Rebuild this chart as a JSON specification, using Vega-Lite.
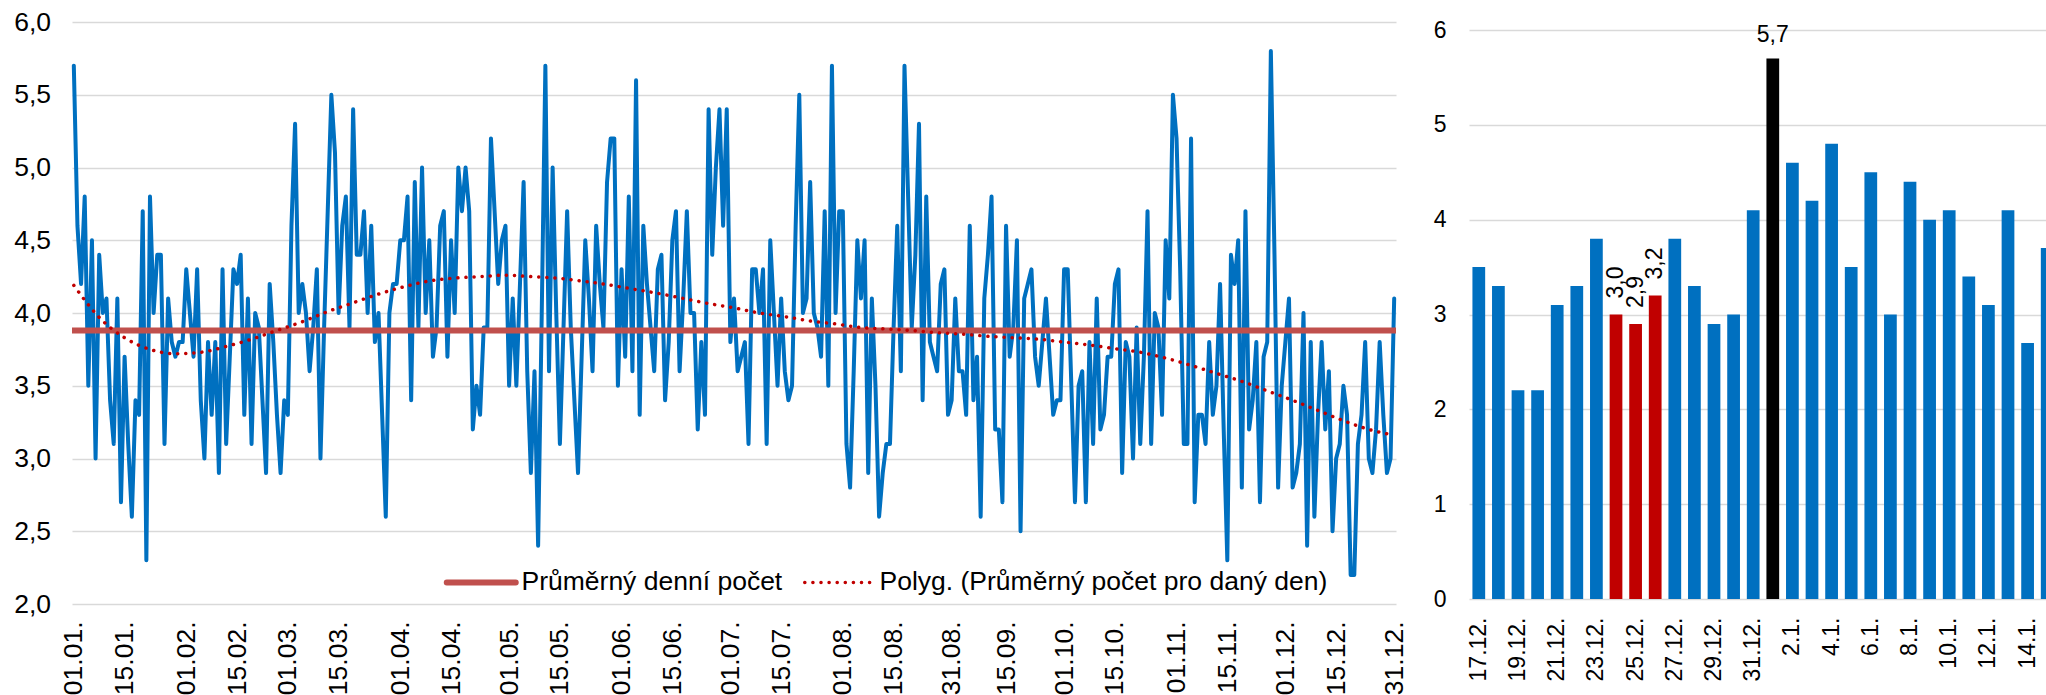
{
"$schema":"https://vega.github.io/schema/vega-lite/v6.json",
"background":"white",
"padding":{"left":13,"top":9,"right":0,"bottom":0},
"bounds":"flush",
"spacing":73,
"resolve":{"scale":{"color":"independent"},"legend":{"color":"independent"}},
"config":{"font":"Liberation Sans","view":{"stroke":null},
"locale":{"number":{"decimal":",","thousands":" ","grouping":[3],"currency":[""," Kč"]}},
"axis":{"labelFont":"Liberation Sans","labelColor":"#000000","gridColor":"#D9D9D9","gridWidth":1.5,"domain":false,"ticks":false}},
"hconcat":[
{"width":1324,"height":582,
"data":{"values":[
{"d":"01.01.","v":5.7,"t":4.19},{"d":"02.01.","v":4.6},{"d":"03.01.","v":4.2},{"d":"04.01.","v":4.8},{"d":"05.01.","v":3.5},{"d":"06.01.","v":4.5},{"d":"07.01.","v":3.0},{"d":"08.01.","v":4.4,"t":3.97},{"d":"09.01.","v":4.0},{"d":"10.01.","v":4.1},{"d":"11.01.","v":3.4},{"d":"12.01.","v":3.1},{"d":"13.01.","v":4.1},{"d":"14.01.","v":2.7},{"d":"15.01.","v":3.7,"t":3.83},{"d":"16.01.","v":3.1},{"d":"17.01.","v":2.6},{"d":"18.01.","v":3.4},{"d":"19.01.","v":3.3},{"d":"20.01.","v":4.7},{"d":"21.01.","v":2.3},{"d":"22.01.","v":4.8,"t":3.75},{"d":"23.01.","v":4.0},{"d":"24.01.","v":4.4},{"d":"25.01.","v":4.4},{"d":"26.01.","v":3.1},{"d":"27.01.","v":4.1},{"d":"28.01.","v":3.8},{"d":"29.01.","v":3.7,"t":3.72},{"d":"30.01.","v":3.8},{"d":"31.01.","v":3.8},
{"d":"01.02.","v":4.3},{"d":"02.02.","v":4.0},{"d":"03.02.","v":3.7},{"d":"04.02.","v":4.3},{"d":"05.02.","v":3.4,"t":3.73},{"d":"06.02.","v":3.0},{"d":"07.02.","v":3.8},{"d":"08.02.","v":3.3},{"d":"09.02.","v":3.8},{"d":"10.02.","v":2.9},{"d":"11.02.","v":4.3},{"d":"12.02.","v":3.1,"t":3.77},{"d":"13.02.","v":3.7},{"d":"14.02.","v":4.3},{"d":"15.02.","v":4.2},{"d":"16.02.","v":4.4},{"d":"17.02.","v":3.3},{"d":"18.02.","v":4.1},{"d":"19.02.","v":3.1,"t":3.82},{"d":"20.02.","v":4.0},{"d":"21.02.","v":3.9},{"d":"22.02.","v":3.4},{"d":"23.02.","v":2.9},{"d":"24.02.","v":4.2},{"d":"25.02.","v":3.8},{"d":"26.02.","v":3.3,"t":3.88},{"d":"27.02.","v":2.9},{"d":"28.02.","v":3.4},
{"d":"01.03.","v":3.3},{"d":"02.03.","v":4.6},{"d":"03.03.","v":5.3},{"d":"04.03.","v":4.0},{"d":"05.03.","v":4.2,"t":3.94},{"d":"06.03.","v":4.0},{"d":"07.03.","v":3.6},{"d":"08.03.","v":3.9},{"d":"09.03.","v":4.3},{"d":"10.03.","v":3.0},{"d":"11.03.","v":3.9},{"d":"12.03.","v":4.7,"t":4.01},{"d":"13.03.","v":5.5},{"d":"14.03.","v":5.1},{"d":"15.03.","v":4.0},{"d":"16.03.","v":4.6},{"d":"17.03.","v":4.8},{"d":"18.03.","v":3.9},{"d":"19.03.","v":5.4,"t":4.07},{"d":"20.03.","v":4.4},{"d":"21.03.","v":4.4},{"d":"22.03.","v":4.7},{"d":"23.03.","v":4.0},{"d":"24.03.","v":4.6},{"d":"25.03.","v":3.8},{"d":"26.03.","v":4.0,"t":4.13},{"d":"27.03.","v":3.3},{"d":"28.03.","v":2.6},{"d":"29.03.","v":4.0},{"d":"30.03.","v":4.2},{"d":"31.03.","v":4.2},
{"d":"01.04.","v":4.5},{"d":"02.04.","v":4.5,"t":4.18},{"d":"03.04.","v":4.8},{"d":"04.04.","v":3.4},{"d":"05.04.","v":4.9},{"d":"06.04.","v":3.9},{"d":"07.04.","v":5.0},{"d":"08.04.","v":4.0},{"d":"09.04.","v":4.5,"t":4.22},{"d":"10.04.","v":3.7},{"d":"11.04.","v":3.9},{"d":"12.04.","v":4.6},{"d":"13.04.","v":4.7},{"d":"14.04.","v":3.7},{"d":"15.04.","v":4.5},{"d":"16.04.","v":4.0,"t":4.24},{"d":"17.04.","v":5.0},{"d":"18.04.","v":4.7},{"d":"19.04.","v":5.0},{"d":"20.04.","v":4.7},{"d":"21.04.","v":3.2},{"d":"22.04.","v":3.5},{"d":"23.04.","v":3.3,"t":4.25},{"d":"24.04.","v":3.9},{"d":"25.04.","v":3.9},{"d":"26.04.","v":5.2},{"d":"27.04.","v":4.7},{"d":"28.04.","v":4.2},{"d":"29.04.","v":4.5},{"d":"30.04.","v":4.6,"t":4.26},
{"d":"01.05.","v":3.5},{"d":"02.05.","v":4.1},{"d":"03.05.","v":3.5},{"d":"04.05.","v":4.2},{"d":"05.05.","v":4.9},{"d":"06.05.","v":3.6},{"d":"07.05.","v":2.9,"t":4.25},{"d":"08.05.","v":3.6},{"d":"09.05.","v":2.4},{"d":"10.05.","v":4.0},{"d":"11.05.","v":5.7},{"d":"12.05.","v":3.6},{"d":"13.05.","v":5.0},{"d":"14.05.","v":4.0,"t":4.24},{"d":"15.05.","v":3.1},{"d":"16.05.","v":3.9},{"d":"17.05.","v":4.7},{"d":"18.05.","v":3.9},{"d":"19.05.","v":3.4},{"d":"20.05.","v":2.9},{"d":"21.05.","v":3.7,"t":4.22},{"d":"22.05.","v":4.5},{"d":"23.05.","v":4.1},{"d":"24.05.","v":3.6},{"d":"25.05.","v":4.6},{"d":"26.05.","v":4.2},{"d":"27.05.","v":3.9},{"d":"28.05.","v":4.9,"t":4.195},{"d":"29.05.","v":5.2},{"d":"30.05.","v":5.2},{"d":"31.05.","v":3.5},
{"d":"01.06.","v":4.3},{"d":"02.06.","v":3.7},{"d":"03.06.","v":4.8},{"d":"04.06.","v":3.6,"t":4.165},{"d":"05.06.","v":5.6},{"d":"06.06.","v":3.3},{"d":"07.06.","v":4.6},{"d":"08.06.","v":4.2},{"d":"09.06.","v":3.9},{"d":"10.06.","v":3.6},{"d":"11.06.","v":4.3,"t":4.135},{"d":"12.06.","v":4.4},{"d":"13.06.","v":3.4},{"d":"14.06.","v":3.8},{"d":"15.06.","v":4.5},{"d":"16.06.","v":4.7},{"d":"17.06.","v":3.6},{"d":"18.06.","v":4.1,"t":4.10},{"d":"19.06.","v":4.7},{"d":"20.06.","v":4.0},{"d":"21.06.","v":4.0},{"d":"22.06.","v":3.2},{"d":"23.06.","v":3.8},{"d":"24.06.","v":3.3},{"d":"25.06.","v":5.4,"t":4.065},{"d":"26.06.","v":4.4},{"d":"27.06.","v":5.0},{"d":"28.06.","v":5.4},{"d":"29.06.","v":4.6},{"d":"30.06.","v":5.4},
{"d":"01.07.","v":3.8},{"d":"02.07.","v":4.1,"t":4.035},{"d":"03.07.","v":3.6},{"d":"04.07.","v":3.7},{"d":"05.07.","v":3.8},{"d":"06.07.","v":3.1},{"d":"07.07.","v":4.3},{"d":"08.07.","v":4.3},{"d":"09.07.","v":4.0,"t":4.00},{"d":"10.07.","v":4.3},{"d":"11.07.","v":3.1},{"d":"12.07.","v":4.5},{"d":"13.07.","v":4.0},{"d":"14.07.","v":3.5},{"d":"15.07.","v":4.1},{"d":"16.07.","v":3.6,"t":3.975},{"d":"17.07.","v":3.4},{"d":"18.07.","v":3.5},{"d":"19.07.","v":4.6},{"d":"20.07.","v":5.5},{"d":"21.07.","v":4.0},{"d":"22.07.","v":4.1},{"d":"23.07.","v":4.9,"t":3.945},{"d":"24.07.","v":4.0},{"d":"25.07.","v":3.9},{"d":"26.07.","v":3.7},{"d":"27.07.","v":4.7},{"d":"28.07.","v":3.5},{"d":"29.07.","v":5.7},{"d":"30.07.","v":4.0,"t":3.925},{"d":"31.07.","v":4.7},
{"d":"01.08.","v":4.7},{"d":"02.08.","v":3.1},{"d":"03.08.","v":2.8},{"d":"04.08.","v":3.6},{"d":"05.08.","v":4.5},{"d":"06.08.","v":4.1,"t":3.90},{"d":"07.08.","v":4.5},{"d":"08.08.","v":2.9},{"d":"09.08.","v":4.1},{"d":"10.08.","v":3.5},{"d":"11.08.","v":2.6},{"d":"12.08.","v":2.9},{"d":"13.08.","v":3.1,"t":3.89},{"d":"14.08.","v":3.1},{"d":"15.08.","v":3.9},{"d":"16.08.","v":4.6},{"d":"17.08.","v":3.6},{"d":"18.08.","v":5.7},{"d":"19.08.","v":4.8},{"d":"20.08.","v":3.9,"t":3.88},{"d":"21.08.","v":4.4},{"d":"22.08.","v":5.3},{"d":"23.08.","v":3.4},{"d":"24.08.","v":4.8},{"d":"25.08.","v":3.8},{"d":"26.08.","v":3.7},{"d":"27.08.","v":3.6,"t":3.865},{"d":"28.08.","v":4.2},{"d":"29.08.","v":4.3},{"d":"30.08.","v":3.3},{"d":"31.08.","v":3.4},
{"d":"01.09.","v":4.1},{"d":"02.09.","v":3.6},{"d":"03.09.","v":3.6,"t":3.855},{"d":"04.09.","v":3.3},{"d":"05.09.","v":4.6},{"d":"06.09.","v":3.4},{"d":"07.09.","v":3.7},{"d":"08.09.","v":2.6},{"d":"09.09.","v":4.1},{"d":"10.09.","v":4.4,"t":3.84},{"d":"11.09.","v":4.8},{"d":"12.09.","v":3.2},{"d":"13.09.","v":3.2},{"d":"14.09.","v":2.7},{"d":"15.09.","v":4.6},{"d":"16.09.","v":3.7},{"d":"17.09.","v":3.9,"t":3.83},{"d":"18.09.","v":4.5},{"d":"19.09.","v":2.5},{"d":"20.09.","v":4.1},{"d":"21.09.","v":4.2},{"d":"22.09.","v":4.3},{"d":"23.09.","v":3.7},{"d":"24.09.","v":3.5,"t":3.82},{"d":"25.09.","v":3.8},{"d":"26.09.","v":4.1},{"d":"27.09.","v":3.7},{"d":"28.09.","v":3.3},{"d":"29.09.","v":3.4},{"d":"30.09.","v":3.4},
{"d":"01.10.","v":4.3,"t":3.80},{"d":"02.10.","v":4.3},{"d":"03.10.","v":3.5},{"d":"04.10.","v":2.7},{"d":"05.10.","v":3.5},{"d":"06.10.","v":3.6},{"d":"07.10.","v":2.7},{"d":"08.10.","v":3.8,"t":3.78},{"d":"09.10.","v":3.1},{"d":"10.10.","v":4.1},{"d":"11.10.","v":3.2},{"d":"12.10.","v":3.3},{"d":"13.10.","v":3.7},{"d":"14.10.","v":3.7},{"d":"15.10.","v":4.2,"t":3.755},{"d":"16.10.","v":4.3},{"d":"17.10.","v":2.9},{"d":"18.10.","v":3.8},{"d":"19.10.","v":3.7},{"d":"20.10.","v":3.0},{"d":"21.10.","v":3.9},{"d":"22.10.","v":3.1,"t":3.73},{"d":"23.10.","v":3.7},{"d":"24.10.","v":4.7},{"d":"25.10.","v":3.1},{"d":"26.10.","v":4.0},{"d":"27.10.","v":3.9},{"d":"28.10.","v":3.3},{"d":"29.10.","v":4.5,"t":3.69},{"d":"30.10.","v":4.1},{"d":"31.10.","v":5.5},
{"d":"01.11.","v":5.2},{"d":"02.11.","v":4.3},{"d":"03.11.","v":3.1},{"d":"04.11.","v":3.1},{"d":"05.11.","v":5.2,"t":3.64},{"d":"06.11.","v":2.7},{"d":"07.11.","v":3.3},{"d":"08.11.","v":3.3},{"d":"09.11.","v":3.1},{"d":"10.11.","v":3.8},{"d":"11.11.","v":3.3},{"d":"12.11.","v":3.5,"t":3.585},{"d":"13.11.","v":4.2},{"d":"14.11.","v":3.2},{"d":"15.11.","v":2.3},{"d":"16.11.","v":4.4},{"d":"17.11.","v":4.2},{"d":"18.11.","v":4.5},{"d":"19.11.","v":2.8,"t":3.53},{"d":"20.11.","v":4.7},{"d":"21.11.","v":3.2},{"d":"22.11.","v":3.4},{"d":"23.11.","v":3.8},{"d":"24.11.","v":2.7},{"d":"25.11.","v":3.7},{"d":"26.11.","v":3.8,"t":3.465},{"d":"27.11.","v":5.8},{"d":"28.11.","v":4.4},{"d":"29.11.","v":2.8},{"d":"30.11.","v":3.5},
{"d":"01.12.","v":3.8},{"d":"02.12.","v":4.1},{"d":"03.12.","v":2.8,"t":3.40},{"d":"04.12.","v":2.9},{"d":"05.12.","v":3.1},{"d":"06.12.","v":4.0},{"d":"07.12.","v":2.4},{"d":"08.12.","v":3.8},{"d":"09.12.","v":2.6},{"d":"10.12.","v":3.3,"t":3.33},{"d":"11.12.","v":3.8},{"d":"12.12.","v":3.2},{"d":"13.12.","v":3.6},{"d":"14.12.","v":2.5},{"d":"15.12.","v":3.0},{"d":"16.12.","v":3.1},{"d":"17.12.","v":3.5,"t":3.26},{"d":"18.12.","v":3.3},{"d":"19.12.","v":2.2},{"d":"20.12.","v":2.2},{"d":"21.12.","v":3.1},{"d":"22.12.","v":3.3},{"d":"23.12.","v":3.8},{"d":"24.12.","v":3.0,"t":3.20},{"d":"25.12.","v":2.9},{"d":"26.12.","v":3.2},{"d":"27.12.","v":3.8},{"d":"28.12.","v":3.3},{"d":"29.12.","v":2.9},{"d":"30.12.","v":3.0},{"d":"31.12.","v":4.1,"t":3.16}
]},
"layer":[
{"mark":{"type":"line","color":"#0070C0","strokeWidth":4,"strokeJoin":"round","strokeCap":"round"},
"encoding":{
"x":{"field":"d","type":"ordinal","sort":null,"scale":{"type":"point","padding":0.5},
"axis":{"title":null,"grid":false,"labelAngle":270,"labelFontSize":26.5,"labelPadding":17,
"values":["01.01.","15.01.","01.02.","15.02.","01.03.","15.03.","01.04.","15.04.","01.05.","15.05.","01.06.","15.06.","01.07.","15.07.","01.08.","15.08.","31.08.","15.09.","01.10.","15.10.","01.11.","15.11.","01.12.","15.12.","31.12."]}},
"y":{"field":"v","type":"quantitative","scale":{"domain":[2,6],"nice":false,"zero":false},
"axis":{"title":null,"grid":true,"values":[2,2.5,3,3.5,4,4.5,5,5.5,6],"format":".1f","labelFontSize":26.5,"labelPadding":21.5}}}},
{"data":{"values":[{"avg":3.88}]},
"mark":{"type":"rule","strokeWidth":6},
"encoding":{"y":{"field":"avg","type":"quantitative"},
"color":{"datum":"Průměrný denní počet","scale":{"domain":["Průměrný denní počet","Polyg. (Průměrný počet pro daný den)"],"range":["#C0504D","#C00000"]},
"legend":{"orient":"none","legendX":396,"legendY":547,"direction":"horizontal","title":null,"symbolType":"stroke","symbolSize":4761,"symbolStrokeWidth":6,"labelFontSize":26.5,"labelFont":"Liberation Sans","labelColor":"#000000","labelOffset":27,"columnPadding":14,"padding":0,"labelLimit":0,
"encode":{"symbols":{"update":{"strokeDash":{"signal":"datum.value === 'Průměrný denní počet' ? [1,0] : [0.1,8]"},"strokeWidth":{"signal":"datum.value === 'Průměrný denní počet' ? 6 : 3.5"},"strokeCap":{"value":"round"}}}}}}}},
{"transform":[{"filter":"isValid(datum.t)"}],
"mark":{"type":"line","strokeWidth":3.5,"strokeDash":[0.1,8],"strokeCap":"round","interpolate":"monotone"},
"encoding":{"x":{"field":"d","type":"ordinal","sort":null},
"y":{"field":"t","type":"quantitative"},
"color":{"datum":"Polyg. (Průměrný počet pro daný den)"}}}
]},
{"width":577,"height":577,
"data":{"values":[
{"k":"17.12.","v":3.5,"g":"b"},{"k":"18.12.","v":3.3,"g":"b"},{"k":"19.12.","v":2.2,"g":"b"},{"k":"20.12.","v":2.2,"g":"b"},{"k":"21.12.","v":3.1,"g":"b"},{"k":"22.12.","v":3.3,"g":"b"},{"k":"23.12.","v":3.8,"g":"b"},{"k":"24.12.","v":3.0,"g":"r"},{"k":"25.12.","v":2.9,"g":"r"},{"k":"26.12.","v":3.2,"g":"r"},{"k":"27.12.","v":3.8,"g":"b"},{"k":"28.12.","v":3.3,"g":"b"},{"k":"29.12.","v":2.9,"g":"b"},{"k":"30.12.","v":3.0,"g":"b"},{"k":"31.12.","v":4.1,"g":"b"},
{"k":"1.1.","v":5.7,"g":"k"},{"k":"2.1.","v":4.6,"g":"b"},{"k":"3.1.","v":4.2,"g":"b"},{"k":"4.1.","v":4.8,"g":"b"},{"k":"5.1.","v":3.5,"g":"b"},{"k":"6.1.","v":4.5,"g":"b"},{"k":"7.1.","v":3.0,"g":"b"},{"k":"8.1.","v":4.4,"g":"b"},{"k":"9.1.","v":4.0,"g":"b"},{"k":"10.1.","v":4.1,"g":"b"},{"k":"11.1.","v":3.4,"g":"b"},{"k":"12.1.","v":3.1,"g":"b"},{"k":"13.1.","v":4.1,"g":"b"},{"k":"14.1.","v":2.7,"g":"b"},{"k":"15.1.","v":3.7,"g":"b"}
]},
"encoding":{
"x":{"field":"k","type":"ordinal","sort":null,"scale":{"type":"band","range":[0,588],"paddingInner":0.35,"paddingOuter":0.175},
"axis":{"title":null,"grid":false,"labelAngle":270,"labelFontSize":23,"labelPadding":18,
"values":["17.12.","19.12.","21.12.","23.12.","25.12.","27.12.","29.12.","31.12.","2.1.","4.1.","6.1.","8.1.","10.1.","12.1.","14.1."]}},
"y":{"field":"v","type":"quantitative","scale":{"domain":[0,6],"range":[577,8],"nice":false},
"axis":{"title":null,"grid":true,"values":[0,1,2,3,4,5,6],"format":"d","labelFontSize":23,"labelPadding":23}}},
"layer":[
{"mark":{"type":"bar","clip":true},
"encoding":{"color":{"field":"g","type":"nominal","scale":{"domain":["b","r","k"],"range":["#0070C0","#C00000","#000000"]},"legend":null}}},
{"transform":[{"filter":"datum.g == 'k'"}],
"mark":{"type":"text","baseline":"alphabetic","align":"center","dy":-16,"fontSize":23,"font":"Liberation Sans","color":"#000000"},
"encoding":{"text":{"field":"v","type":"quantitative","format":".1f"}}},
{"transform":[{"filter":"datum.g == 'r'"}],
"mark":{"type":"text","angle":270,"align":"left","baseline":"middle","dx":16,"fontSize":23,"font":"Liberation Sans","color":"#000000"},
"encoding":{"text":{"field":"v","type":"quantitative","format":".1f"}}}
]}
]}
